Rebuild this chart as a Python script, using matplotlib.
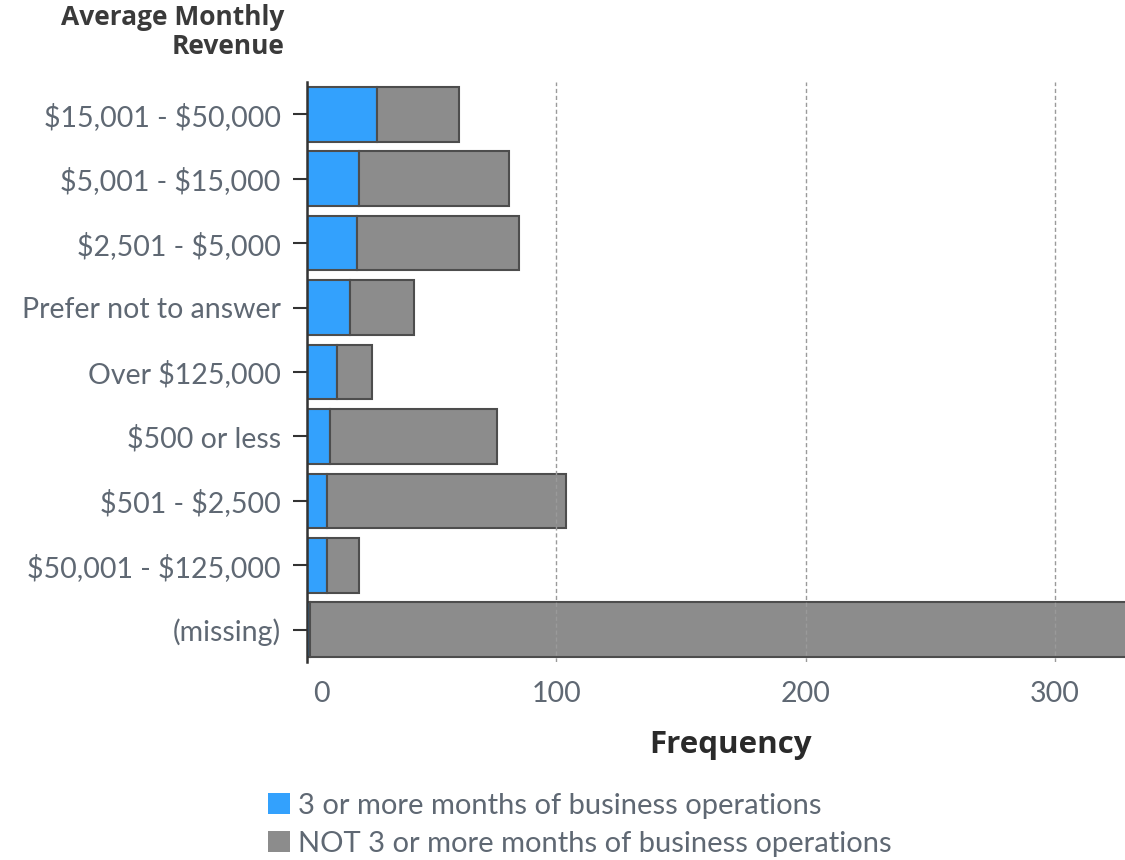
import matplotlib.pyplot as plt
from matplotlib.patches import Patch
from matplotlib.transforms import ScaledTranslation

# revenue bands, top to bottom
categories = [
    '$15,001 - $50,000',
    '$5,001 - $15,000',
    '$2,501 - $5,000',
    'Prefer not to answer',
    'Over $125,000',
    '$500 or less',
    '$501 - $2,500',
    '$50,001 - $125,000',
    '(missing)',
]
three_plus = [28, 21, 20, 17, 12, 9, 8, 8, 1]
not_three_plus = [33, 60, 65, 26, 14, 67, 96, 13, 339]

series_labels = ['3 or more months of business operations',
                 'NOT 3 or more months of business operations']
xticks = [0, 100, 200, 300]

BLUE = '#33a1fd'
GRAY = '#8c8c8c'
EDGE = '#4d4d4d'
TEXT = '#5f6873'
DARK = '#3a3a3a'

plt.rcParams['text.parse_math'] = False
plt.rcParams['font.family'] = ['Lato', 'DejaVu Sans']

fig = plt.figure(figsize=(11.25, 8.6), dpi=100)
ax = fig.add_axes([0.273, 0.2302, 0.727, 0.6745])

ypos = list(range(len(categories)))
ax.barh(ypos, three_plus, height=0.85, color=BLUE, edgecolor=EDGE,
        linewidth=1.5, zorder=2)
ax.barh(ypos, not_three_plus, left=three_plus, height=0.85, color=GRAY,
        edgecolor=EDGE, linewidth=1.5, zorder=2)

ax.set_ylim(len(categories) - 0.5, -0.5)
ax.set_xlim(0, 328)
ax.set_yticks(ypos)
ax.set_yticklabels(categories, fontsize=20.5, color=TEXT)
ax.set_xticks(xticks)
ax.set_xticklabels([str(t) for t in xticks], fontsize=20.5, color=TEXT)

ax.tick_params(axis='y', length=10, width=1.5, color='#333333', pad=9)
ax.tick_params(axis='x', length=0, pad=14)
# nudge the "0" label off the spine
lbl0 = ax.get_xticklabels()[0]
lbl0.set_transform(lbl0.get_transform() + ScaledTranslation(0.14, 0, fig.dpi_scale_trans))

ax.grid(axis='x', linestyle=(0, (3, 2)), color='#9a9a9a', linewidth=1.0, zorder=3)
ax.set_axisbelow(False)
for s in ['top', 'right', 'bottom']:
    ax.spines[s].set_visible(False)
ax.spines['left'].set_color('#333333')
ax.spines['left'].set_linewidth(1.8)
ax.spines['left'].set_zorder(4)

fig.text(284 / 1125, 1 - 4 / 860, 'Average Monthly\nRevenue', ha='right', va='top',
         fontsize=19, fontweight='bold', color=DARK, family='Open Sans',
         linespacing=1.08)
fig.text(730 / 1125, 1 - 745 / 860, 'Frequency', ha='center', va='center',
         fontsize=22.5, fontweight='bold', color='#2a2a2a', family='Open Sans')

handles = [Patch(facecolor=BLUE, edgecolor='none'),
           Patch(facecolor=GRAY, edgecolor='none')]
fig.legend(handles, series_labels, loc='upper left',
           bbox_to_anchor=(256 / 1125, 1 - 781 / 860), frameon=False,
           fontsize=21, labelcolor=TEXT, handlelength=0.75, handleheight=0.75,
           handletextpad=0.3, labelspacing=0.42, borderaxespad=0)

fig.savefig('out.png', dpi=100)
